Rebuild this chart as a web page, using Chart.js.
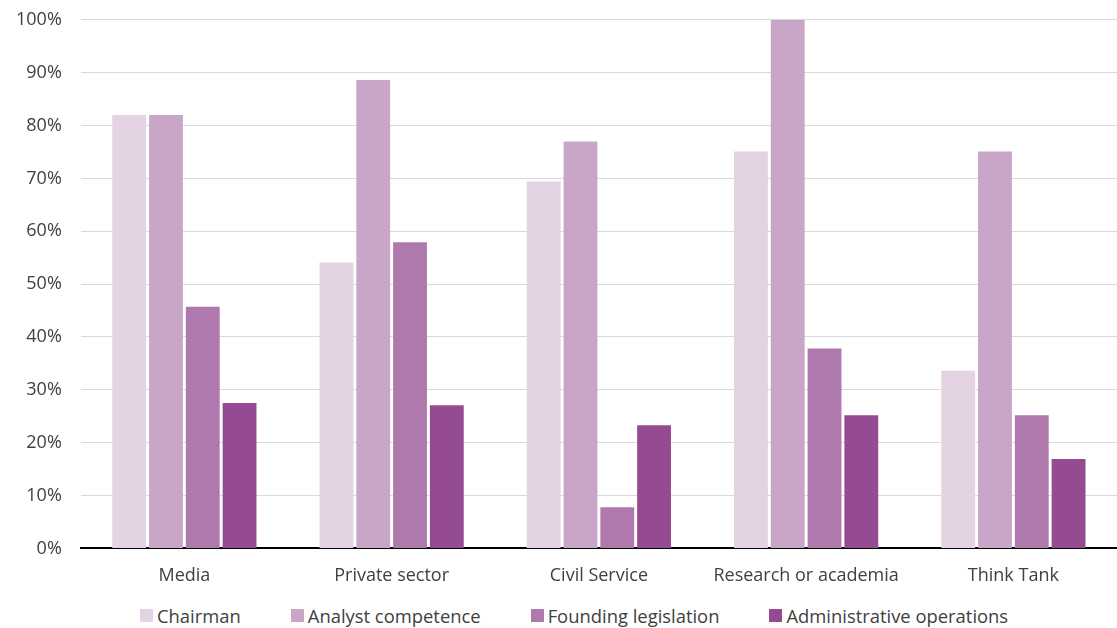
<!DOCTYPE html>
<html>
<head>
<meta charset="utf-8">
<script src="https://cdn.jsdelivr.net/npm/chart.js@4.4.0/dist/chart.umd.min.js"></script>
<style>
  html, body { margin: 0; padding: 0; background: #fff; }
  #wrap { position: relative; width: 1117px; height: 628px; }
  #chartBox { position: absolute; left: 0; top: 0; width: 1117px; height: 596px; }
  #legend {
    position: absolute; left: 140px; top: 603px; height: 24px;
    display: flex; align-items: center; gap: 50px;
    font-family: "Open Sans", sans-serif; font-size: 18.4px; color: #404040;
    margin: 0; padding: 0; list-style: none;
  }
  #legend li { display: flex; align-items: center; white-space: nowrap; }
  #legend .box { width: 13px; height: 13px; margin-right: 4px; }
</style>
</head>
<body>
<div id="wrap">
  <div id="chartBox"><canvas id="chartCanvas"></canvas></div>
  <ul id="legend"></ul>
</div>
<script>
"use strict";

const categories = ["Media", "Private sector", "Civil Service", "Research or academia", "Think Tank"];
const chairman = [82.0, 54.1, 69.4, 75.1, 33.6];
const analystCompetence = [82.0, 88.6, 77.0, 100, 75.1];
const foundingLegislation = [45.7, 57.9, 7.8, 37.8, 25.2];
const administrativeOperations = [27.5, 27.1, 23.3, 25.2, 16.9];

const textColor = "#404040";
const tickFont = { family: "Open Sans", size: 18 };

function series(label, values, color) {
  return {
    label: label,
    data: values,
    backgroundColor: color,
    borderWidth: 0,
    barPercentage: 0.92,
    categoryPercentage: 0.71,
  };
}

// legend rendered as a list under the canvas so the gap between items
// can be set apart from the row height
const htmlLegend = {
  id: "htmlLegend",
  afterUpdate(chart) {
    const list = document.getElementById("legend");
    list.innerHTML = "";
    const items = chart.options.plugins.legend.labels.generateLabels(chart);
    items.forEach((item) => {
      const li = document.createElement("li");
      const box = document.createElement("span");
      box.className = "box";
      box.style.background = item.fillStyle;
      const text = document.createElement("span");
      text.textContent = item.text;
      li.appendChild(box);
      li.appendChild(text);
      list.appendChild(li);
    });
  },
};

const ctx = document.getElementById("chartCanvas").getContext("2d");

new Chart(ctx, {
  type: "bar",
  data: {
    labels: categories,
    datasets: [
      series("Chairman", chairman, "#e4d3e3"),
      series("Analyst competence", analystCompetence, "#c9a6c8"),
      series("Founding legislation", foundingLegislation, "#af79ad"),
      series("Administrative operations", administrativeOperations, "#954b91"),
    ],
  },
  options: {
    responsive: true,
    maintainAspectRatio: false,
    animation: false,
    layout: {
      padding: { top: 0, right: 0, bottom: 0, left: 7 },
    },
    plugins: {
      tooltip: { enabled: false },
      legend: { display: false },
    },
    scales: {
      x: {
        grid: { display: false },
        border: { display: true, color: "#000", width: 2 },
        ticks: {
          color: textColor,
          font: tickFont,
          padding: 9,
        },
      },
      y: {
        min: 0,
        max: 100,
        border: { display: false },
        // invisible tick marks keep the labels away from the plot
        // without pushing the top of the axis down
        grid: {
          color: "#d9d9d9",
          drawTicks: true,
          tickLength: 10,
          tickColor: "rgba(0,0,0,0)",
        },
        ticks: {
          stepSize: 10,
          color: textColor,
          font: tickFont,
          padding: 9,
          callback: (v) => v + "%",
        },
      },
    },
  },
  plugins: [htmlLegend],
});
</script>
</body>
</html>
